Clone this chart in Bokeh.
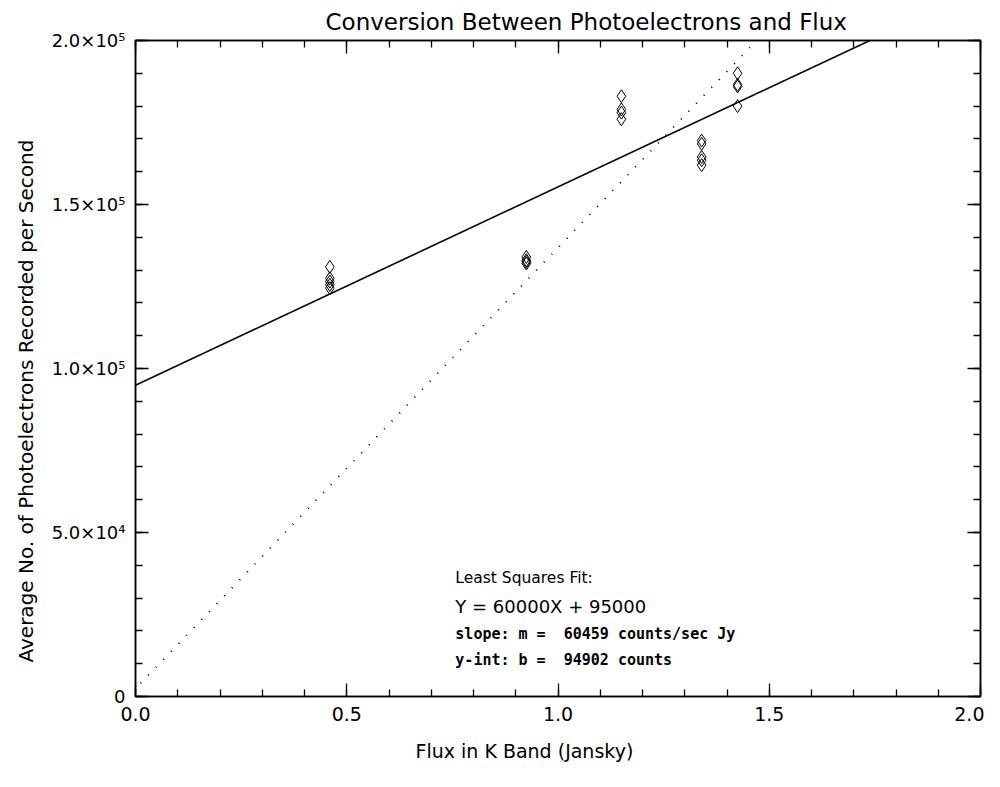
from bokeh.plotting import figure
from bokeh.models import Range1d, FixedTicker, LinearAxis, Label, Title
from bokeh.embed import file_html
from bokeh.resources import INLINE

# ---- data ----
flux_x = [0.46, 0.46, 0.46, 0.46, 0.46,
          0.925, 0.925, 0.925, 0.925,
          1.15, 1.15, 1.15, 1.15,
          1.34, 1.34, 1.34, 1.34, 1.34,
          1.425, 1.425, 1.425, 1.425]
counts_y = [131000, 127500, 126500, 125500, 124500,
            134000, 133000, 132500, 132000,
            183000, 179000, 178000, 176000,
            169500, 168500, 164500, 163500, 162000,
            190000, 186500, 186000, 180000]
fit_slope = 60459
fit_intercept = 94902
dotted_x = [0.012, 1.47]
dotted_y = [4000, 200000]
x_major = [0.0, 0.5, 1.0, 1.5, 2.0]
x_labels = ["0.0", "0.5", "1.0", "1.5", "2.0"]
y_major = [0, 50000, 100000, 150000, 200000]
y_labels = ["0", "5.0×10⁴", "1.0×10⁵", "1.5×10⁵", "2.0×10⁵"]
title_text = "Conversion Between Photoelectrons and Flux"
x_title = "Flux in K Band (Jansky)"
y_title = "Average No. of Photoelectrons Recorded per Second"

FONT = "DejaVu Sans"

p = figure(output_backend="svg", toolbar_location=None,
           frame_width=845, frame_height=656,
           min_border_left=135, min_border_right=4,
           min_border_top=40, min_border_bottom=82,
           x_range=Range1d(0, 2), y_range=Range1d(0, 200000),
           title=title_text)

p.title.align = "left"
p.title.offset = 190
p.title.text_font = FONT
p.title.text_font_style = "normal"
p.title.text_font_size = "23px"
p.title.text_color = "black"
p.title.standoff = 11

p.xgrid.visible = False
p.ygrid.visible = False
p.outline_line_color = "black"
p.outline_line_width = 1.5
p.background_fill_color = "white"
p.border_fill_color = "white"

xminor = [round(0.1 * i, 2) for i in range(21)]
yminor = [10000 * i for i in range(21)]


def style_axis(ax, ticks, minor, labels, show_labels=True, size="19px"):
    ax.ticker = FixedTicker(ticks=ticks, minor_ticks=minor)
    ax.axis_line_color = "black"
    ax.axis_line_width = 1.5
    ax.major_tick_in = 13
    ax.major_tick_out = 0
    ax.minor_tick_in = 7
    ax.minor_tick_out = 0
    ax.major_tick_line_color = "black"
    ax.minor_tick_line_color = "black"
    ax.major_tick_line_width = 1.3
    ax.minor_tick_line_width = 1.3
    ax.major_label_text_font = FONT
    ax.major_label_text_font_size = size
    ax.major_label_text_color = "black"
    if show_labels:
        ax.major_label_overrides = {t: l for t, l in zip(ticks, labels)}
    else:
        ax.major_label_text_font_size = "0px"


for ax in p.xaxis:
    style_axis(ax, x_major, xminor, x_labels, size="19px")
    ax.major_label_standoff = 10
for ax in p.yaxis:
    style_axis(ax, y_major, yminor, y_labels, size="18px")
    ax.major_label_orientation = "horizontal"
    ax.major_label_standoff = 10

top = LinearAxis()
style_axis(top, x_major, xminor, x_labels, show_labels=False)
p.add_layout(top, "above")
right = LinearAxis()
style_axis(right, y_major, yminor, y_labels, show_labels=False)
p.add_layout(right, "right")

# axis titles as Title objects so that they can be offset
xt = Title(text=x_title, align="left", offset=280, text_font=FONT,
           text_font_size="19px", text_font_style="normal", text_color="black",
           standoff=28)
p.add_layout(xt, "below")
yt = Title(text=y_title, align="left", offset=34, text_font=FONT,
           text_font_size="20px", text_font_style="normal", text_color="black",
           standoff=22)
p.add_layout(yt, "left")

# least squares fit line
fit_x = [0.0, 2.0]
fit_y = [fit_intercept + fit_slope * v for v in fit_x]
p.line(fit_x, fit_y, line_color="black", line_width=1.6)

# dotted line
p.line(dotted_x, dotted_y, line_color="black", line_width=1.8, line_dash="1 10")

# data points
p.scatter(flux_x, counts_y, marker="diamond", size=13, fill_color=None,
          line_color="black", line_width=1)

NB = "\u00a0"
ann = [("Least Squares Fit:", 36000, "15.5px", FONT, "normal"),
       ("Y = 60000X + 95000", 27500, "18px", FONT, "normal"),
       ("slope: m =" + NB + NB + "60459 counts/sec Jy", 19200, "15px", "DejaVu Sans Mono", "bold"),
       ("y-int: b =" + NB + NB + "94902 counts", 11000, "15px", "DejaVu Sans Mono", "bold")]
for txt, yy, fs, fnt, sty in ann:
    p.add_layout(Label(x=0.757, y=yy, text=txt, text_font=fnt,
                       text_font_size=fs, text_color="black",
                       text_font_style=sty, text_baseline="middle"))

open("out.html", "w").write(file_html(p, INLINE))
